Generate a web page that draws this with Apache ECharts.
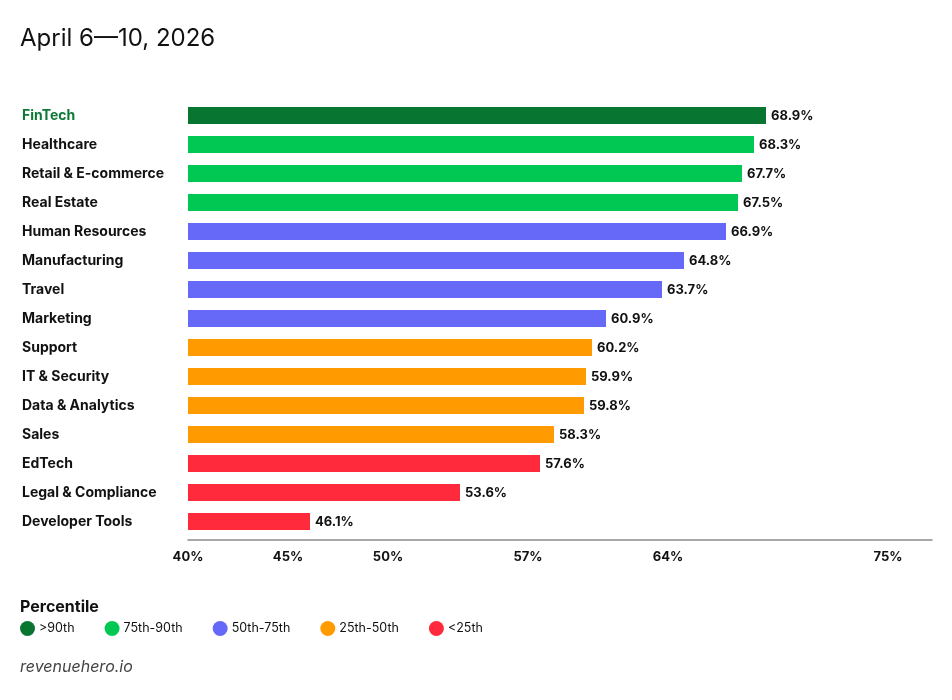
<!DOCTYPE html>
<html>
<head>
<meta charset="utf-8">
<script src="https://cdn.jsdelivr.net/npm/echarts@6/dist/echarts.min.js"></script>
<style>html,body{margin:0;padding:0;background:#fff}#c{width:952px;height:700px}</style>
</head>
<body>
<div id="c"></div>
<script>
const categories = ['FinTech','Healthcare','Retail & E-commerce','Real Estate','Human Resources','Manufacturing','Travel','Marketing','Support','IT & Security','Data & Analytics','Sales','EdTech','Legal & Compliance','Developer Tools'];
const values = [68.9, 68.3, 67.7, 67.5, 66.9, 64.8, 63.7, 60.9, 60.2, 59.9, 59.8, 58.3, 57.6, 53.6, 46.1];
const tiers = [0, 1, 1, 1, 2, 2, 2, 2, 3, 3, 3, 3, 4, 4, 4];
const tierNames = ['>90th', '75th-90th', '50th-75th', '25th-50th', '<25th'];
const tierColors = ['#087531', '#00C853', '#6668F8', '#FF9A00', '#FF2B3D'];
const xTicks = [40, 45, 50, 57, 64, 75];
const highlightCategory = 'FinTech';

const FONT = 'Inter, "Noto Sans", sans-serif';
const chart = echarts.init(document.getElementById('c'), null, {renderer: 'canvas'});

const series = tierNames.map((name, t) => ({
  name: name,
  type: 'bar',
  barWidth: 17,
  barGap: '-100%',
  itemStyle: {color: tierColors[t]},
  label: {
    show: true,
    position: 'right',
    distance: 5,
    offset: [0, 1],
    formatter: p => p.value.toFixed(1) + '%',
    fontFamily: FONT,
    fontWeight: 700,
    fontSize: 13,
    color: '#111'
  },
  emphasis: {disabled: true},
  data: values.map((v, i) => tiers[i] === t ? v : '-')
}));

chart.setOption({
  animation: false,
  backgroundColor: '#fff',
  title: [
    {text: 'April 6\u201410, 2026', left: 20, top: 27, padding: 0,
     textStyle: {fontFamily: FONT, fontSize: 24, fontWeight: 400, color: '#111'}},
    {text: 'Percentile', left: 20, top: 599, padding: 0,
     textStyle: {fontFamily: FONT, fontSize: 16, fontWeight: 700, color: '#111'}},
    {text: 'revenuehero.io', left: 20, top: 659, padding: 0,
     textStyle: {fontFamily: FONT, fontSize: 16, fontWeight: 400, fontStyle: 'italic', color: '#444'}}
  ],
  legend: {
    left: 20, top: 621, padding: 0,
    icon: 'circle', itemWidth: 15, itemHeight: 15, itemGap: 30,
    selectedMode: false,
    textStyle: {fontFamily: FONT, fontSize: 12.5, color: '#111', padding: [0, 0, 0, -1]},
    data: tierNames
  },
  grid: {left: 188, right: 20, top: 101, bottom: 164, containLabel: false, outerBoundsMode: 'none'},
  xAxis: {
    type: 'value',
    min: 40,
    max: 77.2,
    offset: 4,
    axisLine: {show: true, lineStyle: {color: '#8a8a8a', width: 1.5}},
    axisTick: {show: false},
    splitLine: {show: false},
    axisLabel: {
      customValues: xTicks,
      formatter: v => v + '%',
      margin: 11,
      fontFamily: FONT, fontSize: 13, fontWeight: 700, color: '#111',
      showMaxLabel: true, showMinLabel: true
    }
  },
  yAxis: {
    type: 'category',
    inverse: true,
    data: categories.map(c => ({
      value: c,
      textStyle: {align: 'left', color: c === highlightCategory ? '#0C7A36' : '#111'}
    })),
    axisLine: {show: false},
    axisTick: {show: false},
    axisLabel: {
      align: 'left',
      margin: 166,
      padding: [2, 0, 0, 0],
      fontFamily: FONT, fontSize: 14, fontWeight: 700
    }
  },
  series: series
});
</script>
</body>
</html>
